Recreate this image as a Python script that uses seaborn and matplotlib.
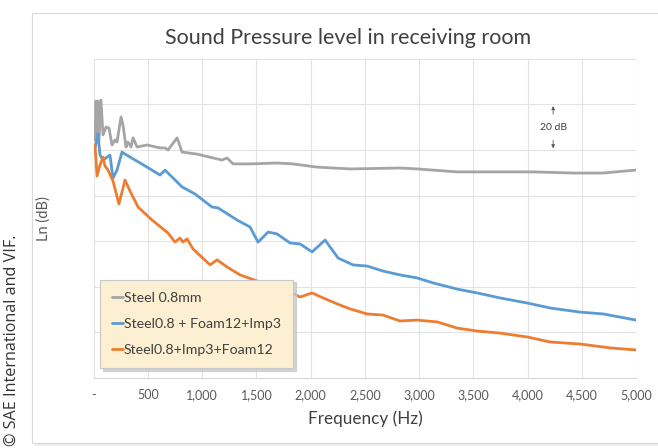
import matplotlib
matplotlib.use("Agg")
import matplotlib.pyplot as plt
from matplotlib.patches import Rectangle
import numpy as np
import pandas as pd
import seaborn as sns

# Steel 0.8mm
freq_steel = [11, 20, 30, 39, 48, 66, 85, 113, 140, 168, 196, 214, 251, 269, 297,
              315, 343, 362, 399, 491, 611, 657, 684, 768, 814, 952, 1100, 1183,
              1229, 1284, 1441, 1690, 1836, 2058, 2363, 2824, 2981, 3350, 3747,
              4051, 4420, 4697, 5000]
ln_steel = [104.4, 121.5, 106.6, 121.5, 104.4, 121.9, 106.6, 110.1, 109.6, 102.2,
            104.4, 103.5, 114.5, 111.0, 101.3, 103.5, 101.3, 105.3, 101.3, 102.2,
            100.9, 100.9, 100.0, 105.3, 99.1, 98.2, 96.5, 95.6, 96.5, 93.9, 93.9,
            94.3, 93.9, 92.5, 91.7, 92.1, 91.7, 90.4, 90.4, 90.4, 89.9, 89.9, 91.2]

# Steel0.8 + Foam12+Imp3
freq_foam_imp = [11, 39, 57, 85, 113, 149, 177, 214, 260, 288, 491, 611, 657, 814,
                 934, 1090, 1146, 1321, 1441, 1515, 1607, 1690, 1810, 1902, 2013,
                 2133, 2253, 2391, 2520, 2668, 2824, 2981, 3129, 3350, 3535, 3747,
                 3996, 4208, 4485, 4697, 5000]
ln_foam_imp = [100.9, 107.0, 97.8, 95.6, 96.5, 97.8, 87.7, 91.2, 99.1, 98.2, 92.5,
               89.0, 91.2, 83.8, 80.7, 75.0, 74.6, 69.3, 66.2, 59.6, 64.0, 63.2,
               59.2, 58.8, 55.3, 60.5, 52.6, 49.6, 49.1, 46.9, 45.2, 43.9, 41.7,
               39.0, 37.3, 35.1, 32.9, 30.7, 28.9, 28.1, 25.4]

# Steel0.8+Imp3+Foam12
freq_imp_foam = [11, 30, 57, 85, 103, 131, 177, 232, 288, 334, 408, 537, 684, 749,
                 795, 823, 860, 915, 1072, 1137, 1229, 1349, 1533, 1717, 1828, 1902,
                 2013, 2115, 2244, 2363, 2520, 2668, 2824, 2981, 3166, 3350, 3535,
                 3747, 3996, 4208, 4485, 4762, 5000]
ln_imp_foam = [102.2, 88.6, 93.4, 96.9, 93.0, 91.2, 86.4, 76.3, 86.8, 82.0, 75.0,
               69.3, 63.6, 59.6, 61.4, 59.6, 61.0, 56.6, 49.6, 51.8, 48.7, 45.2,
               42.1, 39.5, 37.3, 35.5, 37.3, 35.1, 32.5, 30.3, 28.1, 27.6, 25.0,
               25.4, 24.6, 21.9, 20.6, 19.7, 18.0, 15.8, 14.9, 13.2, 12.3]

series_names = ["Steel 0.8mm", "Steel0.8 + Foam12+Imp3", "Steel0.8+Imp3+Foam12"]
series_colors = ["#A5A5A5", "#5B9BD5", "#ED7D31"]

x_ticks = [0, 500, 1000, 1500, 2000, 2500, 3000, 3500, 4000, 4500, 5000]
x_tick_labels = ["-", "500", "1,000", "1,500", "2,000", "2,500", "3,000",
                 "3,500", "4,000", "4,500", "5,000"]

frames = []
for name, f, v in zip(series_names,
                      [freq_steel, freq_foam_imp, freq_imp_foam],
                      [ln_steel, ln_foam_imp, ln_imp_foam]):
    frames.append(pd.DataFrame({"Frequency": f, "Ln": v, "Series": name}))
df = pd.concat(frames, ignore_index=True)

sns.set_theme(style="whitegrid")
plt.rcParams["font.family"] = ["Lato", "DejaVu Sans"]

fig = plt.figure(figsize=(6.58, 4.48), dpi=100)
fig.patch.set_facecolor("white")

# chart frame with a soft shadow
fig.patches.append(Rectangle((35 / 658, 1 - 446 / 448), 630 / 658, 431 / 448,
                             transform=fig.transFigure, facecolor="#EEEEEE",
                             edgecolor="none", zorder=-2))
fig.patches.append(Rectangle((32 / 658, 1 - 443 / 448), 630 / 658, 430 / 448,
                             transform=fig.transFigure, facecolor="white",
                             edgecolor="#D9D9D9", linewidth=0.8, zorder=-1))

ax = fig.add_axes([93.8 / 658, 1 - 378 / 448, 542.2 / 658, 319.2 / 448])
ax.set_facecolor("white")

sns.lineplot(data=df, x="Frequency", y="Ln", hue="Series", hue_order=series_names,
             palette=series_colors, sort=False, estimator=None, units="Series",
             linewidth=2.0, ax=ax, legend=True)

ax.set_xlim(0, 5000)
ax.set_ylim(0, 140)
ax.set_xticks(x_ticks)
ax.set_xticklabels(x_tick_labels, fontsize=9, color="#595959")
ax.set_yticks(np.arange(0, 141, 20))
ax.set_yticklabels([])
ax.tick_params(axis="both", length=0, pad=8)
ax.grid(True, color="#E3E3E3", linewidth=0.8)
for side in ["top", "right", "left"]:
    ax.spines[side].set_visible(False)
ax.spines["bottom"].set_color("#D9D9D9")
ax.spines["bottom"].set_linewidth(0.8)

ax.set_xlabel("Frequency (Hz)", fontsize=12.3, color="#404040", labelpad=7)
ax.set_ylabel("Ln (dB)", fontsize=10.5, color="#595959", labelpad=0)
ax.yaxis.set_label_coords((51 - 93.8) / 542.2, 0.5)

fig.text(348 / 658, 1 - 38 / 448, "Sound Pressure level in receiving room",
         ha="center", va="center", fontsize=15.5, color="#404040")

# 20 dB scale marker
ax.annotate("", xy=(4236, 120.5), xytext=(4236, 114.5),
            arrowprops=dict(arrowstyle="-|>", color="#595959", lw=0.6,
                            mutation_scale=5))
ax.annotate("", xy=(4236, 99.5), xytext=(4236, 105.5),
            arrowprops=dict(arrowstyle="-|>", color="#595959", lw=0.6,
                            mutation_scale=5))
ax.text(4236, 110, "20 dB", ha="center", va="center", fontsize=7.5,
        color="#404040")

leg = ax.legend(loc="lower left", bbox_to_anchor=(0.011, 0.031), fontsize=10.2,
                frameon=True, facecolor="#FCEFD2", edgecolor="#C8C8C8",
                framealpha=1, fancybox=False,
                shadow={"color": "#C8C8C8", "alpha": 0.8},
                handlelength=0.8, handletextpad=0.05, labelspacing=1.0,
                borderpad=0.85, borderaxespad=0)
leg.get_frame().set_linewidth(0.8)
for t in leg.get_texts():
    t.set_color("#404040")
for line in leg.get_lines():
    line.set_linewidth(2.0)
leg.set_zorder(5)

fig.text(12 / 658, 1 - 340 / 448, "© SAE International and VIF.", rotation=90,
         ha="center", va="center", fontsize=11.6, color="#333333",
         family=["Open Sans", "DejaVu Sans"])

fig.savefig("out.png", dpi=100)
